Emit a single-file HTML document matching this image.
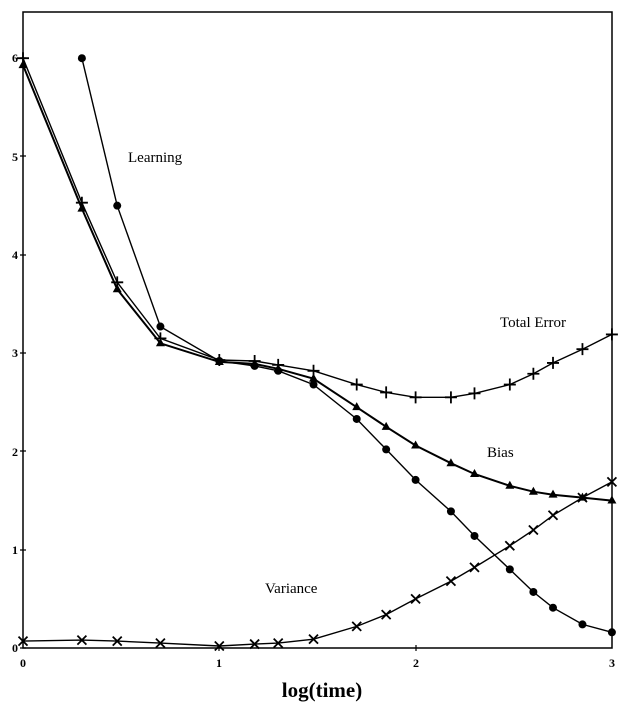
<!DOCTYPE html>
<html><head><style>body{margin:0;background:#fff}svg{display:block}</style></head>
<body>
<svg id="s" width="622" height="710" xmlns="http://www.w3.org/2000/svg" font-family="Liberation Serif, serif">
<rect x="23" y="12" width="589" height="636" fill="none" stroke="#000" stroke-width="1.5"/>
<g stroke="#000" stroke-width="1.2">
<path d="M20 648h6M20 550h6M20 451h6M20 353h6M20 255h6M20 156h6M20 58h6"/>
<path d="M219 645v6M416 645v6"/>
</g>
<g font-size="12" font-weight="bold" text-anchor="end">
<text x="18" y="652">0</text><text x="18" y="554">1</text><text x="18" y="456">2</text><text x="18" y="357">3</text><text x="18" y="259">4</text><text x="18" y="161">5</text><text x="18" y="62">6</text>
</g>
<g font-size="12" font-weight="bold" text-anchor="middle">
<text x="23" y="667">0</text><text x="219" y="667">1</text><text x="416" y="667">2</text><text x="612" y="667">3</text>
</g>
<text x="322" y="697" font-size="21" font-weight="bold" text-anchor="middle">log(time)</text>
<g font-size="15">
<text x="128" y="162">Learning</text>
<text x="500" y="327">Total Error</text>
<text x="487" y="457">Bias</text>
<text x="265" y="593">Variance</text>
</g>
<g id="g"></g>
</svg>
<script>
var X=t=>23+t*196.3, Y=v=>648-v*98.3;
var ts=[0,0.3,0.48,0.7,1,1.18,1.3,1.48,1.7,1.85,2,2.18,2.3,2.48,2.6,2.7,2.85,3];
var L=[null,6.0,4.5,3.27,2.92,2.87,2.82,2.68,2.33,2.02,1.71,1.39,1.14,0.8,0.57,0.41,0.24,0.16];
var T=[6.0,4.53,3.72,3.15,2.93,2.92,2.88,2.82,2.68,2.6,2.55,2.55,2.59,2.68,2.79,2.9,3.04,3.19];
var B=[5.93,4.47,3.65,3.1,2.91,2.89,2.84,2.74,2.45,2.25,2.06,1.88,1.77,1.65,1.59,1.56,1.53,1.5];
var V=[0.07,0.08,0.07,0.05,0.02,0.04,0.05,0.09,0.22,0.34,0.5,0.68,0.82,1.04,1.2,1.35,1.53,1.69];
var h='';
function ser(d,m){var p=[];d.forEach((v,i)=>{if(v==null)return;var x=X(ts[i]),y=Y(v);p.push(x.toFixed(1)+','+y.toFixed(1));
if(m=='c')h+=`<circle cx="${x}" cy="${y}" r="4" fill="#000"/>`;
if(m=='p')h+=`<path d="M${x-6} ${y}h12M${x} ${y-6}v12" stroke="#000" stroke-width="1.8"/>`;
if(m=='t')h+=`<path d="M${x} ${y-5}L${x+4.5} ${y+3}L${x-4.5} ${y+3}Z" fill="#000"/>`;
if(m=='x')h+=`<path d="M${x-4.5} ${y-4.5}L${x+4.5} ${y+4.5}M${x+4.5} ${y-4.5}L${x-4.5} ${y+4.5}" stroke="#000" stroke-width="1.8"/>`;});
h='<polyline points="'+p.join(' ')+'" fill="none" stroke="#000" stroke-width="'+(m=='t'?2:1.4)+'"/>'+h;}
ser(L,'c');ser(T,'p');ser(B,'t');ser(V,'x');
document.getElementById('g').innerHTML=h;
</script>
</body></html>
